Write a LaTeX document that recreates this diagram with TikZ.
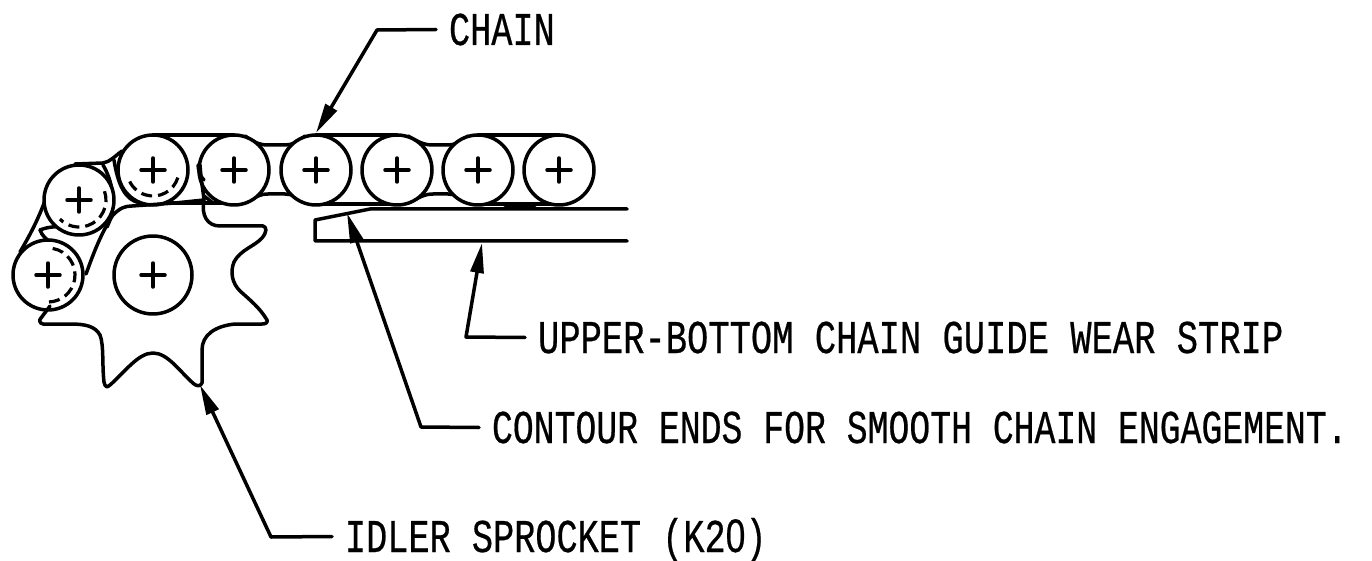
\documentclass[tikz,border=0pt]{standalone}
\usepackage{fontspec}
\usepackage{graphicx}
\usetikzlibrary{arrows.meta}
\newfontfamily\lblfont[FakeBold=0.6]{Liberation Mono}
\newfontfamily\zerofont[FakeBold=0.6]{Liberation Sans}
\newcommand{\lbltxt}[2][0.75]{\scalebox{#1}[1]{\fontsize{47}{50}\selectfont\lblfont #2}}
\tikzset{
  ink/.style={line width=3.5pt,line join=round,line cap=round},
  roller/.style={circle,draw,ink,fill=white,minimum size=70pt,inner sep=0pt,outer sep=0pt,
    path picture={\draw[ink] (path picture bounding box.center) ++(-12pt,0pt) -- ++(24pt,0pt);
      \draw[ink] (path picture bounding box.center) ++(0pt,-12pt) -- ++(0pt,24pt);}},
  bore/.style={roller,minimum size=78pt},
  callout/.style={anchor=south west,inner ysep=0pt,inner xsep=13pt,text height=31pt,text depth=0pt,outer sep=0pt},
  leader/.style={ink,-{Triangle[length=30pt,width=13pt]}},
  hidden/.style={line width=3.2pt,dash pattern=on 11pt off 6pt},
}
\begin{document}
\begin{tikzpicture}[x=1pt,y=-1pt]
\useasboundingbox (0,0) rectangle (1372,561);
% chain side plates
\draw[ink] (153,135) -- (234,135);
\draw[ink] (153,203) -- (234,203);
\draw[ink] (316,135) -- (397,135);
\draw[ink] (316,204) -- (397,204);
\draw[ink] (478,135) -- (559,135);
\draw[ink] (478,204) -- (559,204);
\draw[ink] (245,136) .. controls (255,143) and (260,145) .. (268,145) -- (285,145) .. controls (292,145) and (298,142) .. (305,136);
\draw[ink] (245,203) .. controls (255,197) and (260,194) .. (268,194) -- (285,194) .. controls (292,194) and (298,197) .. (305,203);
\draw[ink] (408,136) .. controls (420,143) and (425,145) .. (433,145) -- (448,145) .. controls (455,145) and (460,142) .. (468,136);
\draw[ink] (408,203) .. controls (420,197) and (425,194) .. (433,194) -- (448,194) .. controls (455,194) and (460,197) .. (468,203);
\draw[ink] (75,164) -- (103,163) .. controls (110,162) and (115,156) .. (122,151);
\draw[ink] (46,198) .. controls (38,220) and (30,235) .. (20,252);
\draw[ink] (103,165) .. controls (112,180) and (118,205) .. (107,227);
\draw[ink] (114,160) .. controls (118,185) and (125,200) .. (140,203);
\draw[ink] (40,230) .. controls (50,226) and (60,226) .. (75,228);
\draw[ink] (40,230) .. controls (42,236) and (47,240) .. (52,243);
% rollers
\node[roller] (r0) at (48,275) {};
\node[roller] (r1) at (79,200) {};
\node[roller] (r2) at (153,170) {};
\node[roller] (r3) at (234,170) {};
\node[roller] (r4) at (316,170) {};
\node[roller] (r5) at (397,170) {};
\node[roller] (r6) at (478,170) {};
\node[roller] (r7) at (559,170) {};
\node[bore] (hub) at (153,275) {};
% pins hidden behind the plates
\draw[hidden] (r2) ++(17:26) arc[start angle=17,end angle=163,radius=26];
\draw[hidden] (r1) ++(-19:27) arc[start angle=-19,end angle=135,radius=27];
\draw[hidden] (r0) ++(-80:27) arc[start angle=-80,end angle=88,radius=27];
% sprocket
\draw[ink] (86,274) .. controls (93,255) and (100,235) .. (113,215) .. controls (120,208) and (125,206) .. (132,206) -- (175,203) -- (204,200)
  .. controls (201,215) and (207,226) .. (220,226) -- (263,226) .. controls (267,227) and (267,232) .. (262,238)
  .. controls (255,246) and (240,250) .. (234,262) .. controls (230,272) and (232,283) .. (240,291)
  .. controls (250,300) and (260,308) .. (267,320) .. controls (268,323) and (265,324) .. (262,324) -- (235,324)
  .. controls (215,326) and (202,335) .. (202,350) -- (202,383)
  .. controls (200,387) and (197,386) .. (194,384) .. controls (180,372) and (168,353) .. (153,353)
  .. controls (138,353) and (125,372) .. (110,385) .. controls (107,388) and (105,387) .. (104,382)
  .. controls (102,365) and (104,345) .. (100,335) .. controls (95,326) and (85,324) .. (70,324)
  -- (43,324) .. controls (39,323) and (39,320) .. (41,318) -- (50,306);
\draw[ink] (200,165) .. controls (201,180) and (203,190) .. (204,200);
\draw[ink] (198,165) .. controls (199,175) and (202,178) .. (204,180);
\draw[ink] (204,196) -- (213,203);
% wear strip
\draw[ink] (627,209) -- (370,209) -- (315,220) -- (315,241) -- (627,241);
\draw[ink] (505,205) -- (535,205);
% callouts
\node[callout] (lchain) at (436,45) {\lbltxt{CHAIN}};
\node[callout] (lstrip) at (525,353) {\lbltxt[0.755]{UPPER-BOTTOM CHAIN GUIDE WEAR STRIP}};
\node[callout] (lcontour) at (479,443) {\lbltxt[0.74]{CONTOUR ENDS FOR SMOOTH CHAIN ENGAGEMENT.}};
\node[callout] (lidler) at (332,552) {\lbltxt{IDLER SPROCKET (K2{\zerofont 0})}};
\coordinate (tchain) at (316,133);
\coordinate (tstrip) at (482,243);
\coordinate (tcontour) at (347,213);
\coordinate (tidler) at (200,385);
\draw[leader] (lchain.west) -- (377,30) -- (tchain);
\draw[leader] (lstrip.west) -- (466,337) -- (tstrip);
\draw[leader] (lcontour.west) -- (421,427) -- (tcontour);
\draw[leader] (lidler.west) -- (271,537) -- (tidler);
\end{tikzpicture}
\end{document}
